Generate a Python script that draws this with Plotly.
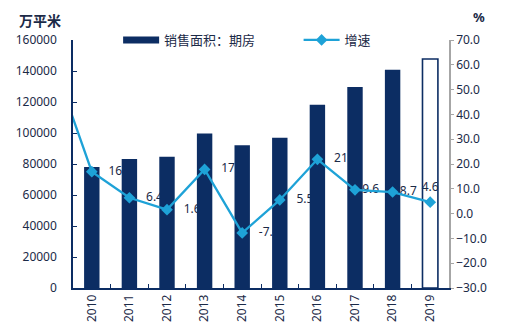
import plotly.graph_objects as go

years = ["2010", "2011", "2012", "2013", "2014", "2015", "2016", "2017", "2018", "2019"]
area = [78000, 83300, 84600, 99600, 92100, 97000, 118300, 129600, 140800, 147700]
line_years = ["2009"] + years
growth = [60.0, 16.9, 6.4, 1.6, 17.8, -7.8, 5.5, 21.9, 9.6, 8.7, 4.6]
label_text = ["16.9", "6.4", "1.6", "17.8", "-7.8", "5.5", "21.9", "9.6", "8.7", "4.6"]

bar_name = "销售面积：期房"
line_name = "增速"

NAVY = "#0c2d63"
CYAN = "#1ea2d7"
TXT = "#1b2a47"
FONT = "Noto Sans, Noto Sans CJK SC"

bar_fill = [NAVY] * 9 + ["rgba(0,0,0,0)"]
bar_edge = [0] * 9 + [1.6]
label_pos = ["middle right"] * 7 + ["middle right", "middle right", "top center"]
label_gap = [25] * 7 + [10, 10, 12]

fig = go.Figure()

# data labels (bottom layer, under the bars)
fig.add_trace(go.Scatter(
    x=years, y=growth[1:], mode="markers+text", text=label_text,
    textposition=label_pos, textfont=dict(size=12, color=TXT, family=FONT),
    marker=dict(size=label_gap, opacity=0), yaxis="y", showlegend=False, hoverinfo="skip"))

# bars
fig.add_trace(go.Bar(
    x=years, y=area, yaxis="y2", width=0.41,
    marker=dict(color=bar_fill, line=dict(color=NAVY, width=bar_edge)),
    showlegend=False))

# legend proxy for bars
fig.add_trace(go.Scatter(x=[None], y=[None], mode="lines", name=bar_name,
                         line=dict(color=NAVY, width=7), yaxis="y2", legend="legend"))

# growth line
fig.add_trace(go.Scatter(
    x=line_years, y=growth, mode="lines+markers", name=line_name, yaxis="y3",
    line=dict(color=CYAN, width=2.3), legend="legend2",
    marker=dict(symbol="diamond", size=9, color=CYAN)))

legend_style = dict(orientation="h", yanchor="middle", xanchor="left", y=1.0,
                    font=dict(size=13, color=TXT), bgcolor="rgba(0,0,0,0)", itemwidth=36)

fig.update_layout(
    width=513, height=335,
    margin=dict(l=73, r=64, t=40, b=47),
    paper_bgcolor="white", plot_bgcolor="white",
    font=dict(family=FONT, size=12, color=TXT),
    xaxis=dict(type="category", categoryorder="array", categoryarray=line_years,
               range=[0.5, 10.5], tickson="boundaries", ticks="inside", ticklen=4,
               tickcolor=NAVY, showline=True, linecolor=NAVY, linewidth=1.5,
               tickangle=-90, showgrid=False, zeroline=False,
               tickfont=dict(size=12, color=TXT)),
    yaxis=dict(side="right", range=[-30, 70], dtick=10, tickformat=".1f",
               showline=True, linecolor="#a6a6a6", linewidth=1.5,
               ticks="outside", ticklen=3, tickcolor="#a6a6a6",
               showgrid=False, zeroline=False, tickfont=dict(size=12, color=TXT)),
    yaxis2=dict(side="left", overlaying="y", range=[0, 160000], dtick=20000,
                tickformat="d", showline=True, linecolor=NAVY, linewidth=1.5,
                ticks="inside", ticklen=4, tickcolor=NAVY, ticklabelstandoff=12,
                showgrid=False, zeroline=False, tickfont=dict(size=12, color=TXT)),
    yaxis3=dict(side="right", overlaying="y", range=[-30, 70], visible=False,
                showgrid=False, zeroline=False),
    legend=dict(x=0.12, **legend_style),
    legend2=dict(x=0.60, **legend_style),
    annotations=[
        dict(text="<b>万平米</b>", x=-0.088, y=1.077, xref="paper", yref="paper",
             xanchor="center", yanchor="middle",
             showarrow=False, font=dict(size=14, color=TXT)),
        dict(text="<b>%</b>", x=1.08, y=1.093, xref="paper", yref="paper",
             xanchor="center", yanchor="middle",
             showarrow=False, font=dict(size=13, color=TXT)),
    ],
)

fig.write_html("out.html")
